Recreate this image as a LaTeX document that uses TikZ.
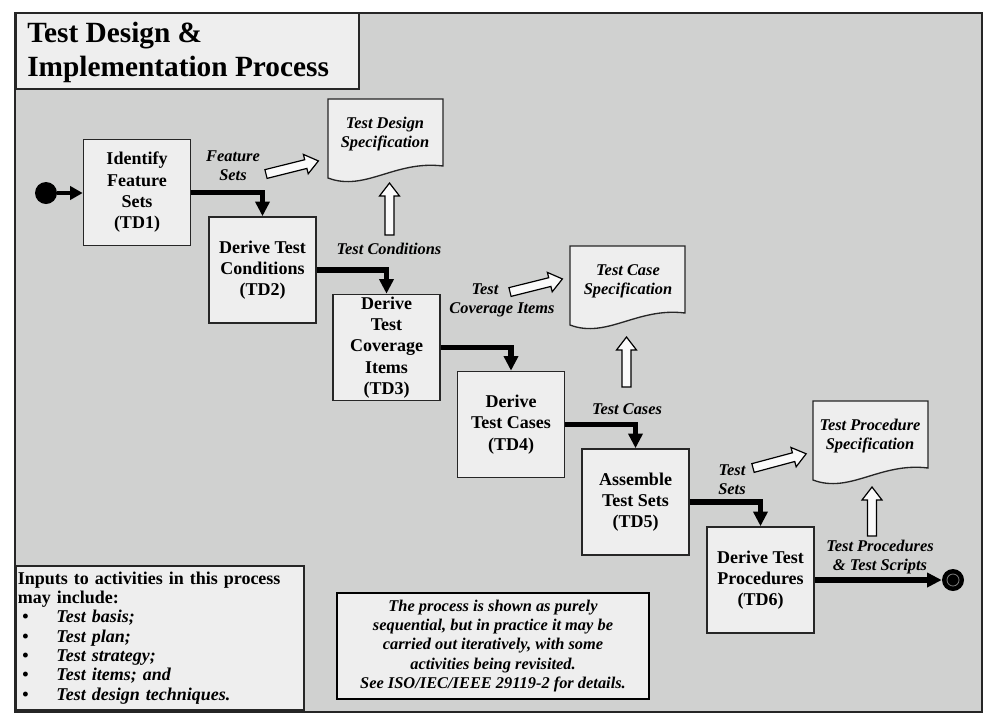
\documentclass[tikz,border=0pt]{standalone}
\usepackage{fontspec}
\setmainfont{Liberation Serif}
\usetikzlibrary{arrows.meta,calc}
\definecolor{bgc}{RGB}{208,209,208}
\definecolor{boxc}{RGB}{238,238,238}
\definecolor{arrc}{RGB}{250,250,250}
\newcommand\hollowarr[3]{%
\begin{scope}[shift={(#1)}, rotate=#2]
\draw[hollow] (0,-4.5) -- ({#3-13},-4.5) -- ({#3-13},-10) -- (#3,0) -- ({#3-13},10) -- ({#3-13},4.5) -- (0,4.5) -- cycle;
\end{scope}}
\newcommand\docshape[2]{%
\draw[docline] (#1,#2) -- ({#1+115},#2) -- ({#1+115},{#2+67}) .. controls ({#1+67},{#2+61}) and ({#1+37},{#2+93}) .. (#1,{#2+79}) -- cycle;}
\begin{document}
\begin{tikzpicture}[x=0.75pt,y=-0.75pt,
 proc/.style={draw=black!85, line width=1.2pt, fill=boxc, minimum width=80.25pt, minimum height=79.5pt, inner sep=0pt, align=center, font=\fontsize{13.5}{16}\selectfont\bfseries},
 lbl/.style={align=center, inner sep=0pt, font=\fontsize{12.3}{14.2}\selectfont\bfseries\itshape},
 flow/.style={line width=3.8pt, -{Triangle[length=11pt,width=10.5pt]}},
 startflow/.style={line width=2.3pt, -{Triangle[length=9.5pt,width=10pt]}},
 docline/.style={draw=black!85, line width=1pt, fill=boxc},
 hollow/.style={draw=black, line width=0.9pt, fill=arrc, line join=miter},
]
\useasboundingbox (0,0) rectangle (995,726);
% frame
\draw[fill=bgc, draw=black!85, line width=1.5pt] (15,13) rectangle (982,712);
\draw[fill=boxc, draw=black!85, line width=1.2pt] (16,13) rectangle (359,89);
\node[anchor=west, align=left, inner sep=0pt, font=\fontsize{22}{25.5}\selectfont\bfseries] (title) at (27,52) {Test Design \&\\Implementation Process};

% documents
\docshape{328}{99}
\docshape{570}{246}
\docshape{813}{401}
\node[lbl] (tds) at (385,134) {Test Design\\Specification};
\node[lbl] (tcs) at (628,281) {Test Case\\Specification};
\node[lbl] (tps) at (870,436) {Test Procedure\\Specification};

% process boxes
\node[proc] (td1) at (137,192.5) {Identify\\Feature\\Sets\\(TD1)};
\node[proc] (td2) at (262.5,270) {Derive Test\\Conditions\\(TD2)};
\node[proc] (td3) at (386.5,347.5) {Derive\\Test\\Coverage\\Items\\(TD3)};
\node[proc] (td4) at (511,424.5) {Derive\\Test Cases\\(TD4)};
\node[proc] (td5) at (635.5,502) {Assemble\\Test Sets\\(TD5)};
\node[proc] (td6) at (760.5,580) {Derive Test\\Procedures\\(TD6)};

% start / end
\node[circle, fill=black, minimum size=16.5pt, inner sep=0pt] (start) at (46,193) {};
\node[circle, fill=black, minimum size=16.5pt, inner sep=0pt] (end) at (953,580) {};
\draw[gray, line width=0.6pt] (end.center) circle (4.5pt);

% flow
\draw[startflow] (start.east) -- (start.east -| td1.west);
\draw[flow] (td1.east) -| (td2.north);
\draw[flow] (td2.east) -| (td3.north);
\draw[flow] (td3.east) -| (td4.north);
\draw[flow] (td4.east) -| (td5.north);
\draw[flow] (td5.east) -| (td6.north);
\draw[flow] (td6.east) -- (end.west);

% hollow arrows
\hollowarr{266,174}{14}{54}
\hollowarr{389.5,235}{90}{52}
\hollowarr{510,292}{14}{54}
\hollowarr{626.5,387}{90}{50}
\hollowarr{753,468}{15}{55}
\hollowarr{872,536}{90}{49}

% labels
\node[lbl] (lfs) at (233,166) {Feature\\Sets};
\node[lbl] (ltc) at (389,249) {Test Conditions};
\node[lbl] (ltci) at (502,300) {Test\hspace*{25.5pt}\\Coverage Items};
\node[lbl] (ltcs) at (627,409) {Test Cases};
\node[lbl] (lts) at (732,480) {Test\\Sets};
\node[lbl] (ltp) at (880,557) {Test Procedures\\\& Test Scripts};

% inputs box
\node[draw=black!85, line width=1.2pt, fill=boxc, anchor=north west, text width=213pt, minimum height=108pt, inner xsep=1.5pt, align=left, font=\fontsize{13.5}{14.5}\selectfont\bfseries] (inputs) at (15,565) {Inputs to activities in this process\\
may include:\\
\hspace*{3.5pt}\makebox[25.5pt][l]{•}\textit{Test basis;}\\
\hspace*{3.5pt}\makebox[25.5pt][l]{•}\textit{Test plan;}\\
\hspace*{3.5pt}\makebox[25.5pt][l]{•}\textit{Test strategy;}\\
\hspace*{3.5pt}\makebox[25.5pt][l]{•}\textit{Test items; and}\\
\hspace*{3.5pt}\makebox[25.5pt][l]{•}\textit{Test design techniques.}};

% note box
\node[draw=black, line width=2.2pt, fill=boxc, minimum width=234pt, minimum height=79.5pt, align=center, inner sep=0pt, font=\fontsize{12.3}{14.3}\selectfont\bfseries\itshape] (note) at (493,646) {The process is shown as purely\\sequential, but in practice it may be\\carried out iteratively, with some\\activities being revisited.\\See ISO/IEC/IEEE 29119-2 for details.};
\end{tikzpicture}
\end{document}
